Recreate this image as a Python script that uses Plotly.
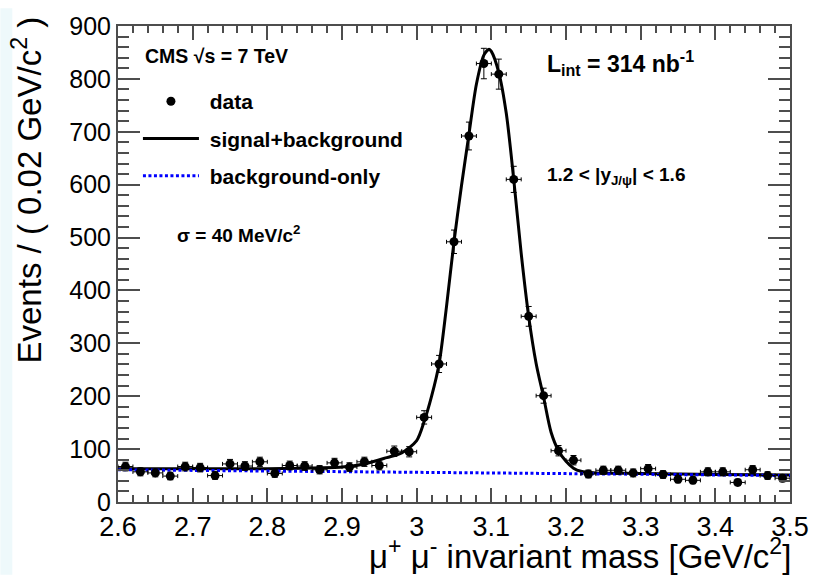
import plotly.graph_objects as go

# ---------------- data ----------------
mass_bins = [2.61, 2.63, 2.65, 2.67, 2.69, 2.71, 2.73, 2.75, 2.77, 2.79,
             2.81, 2.83, 2.85, 2.87, 2.89, 2.91, 2.93, 2.95, 2.97, 2.99,
             3.01, 3.03, 3.05, 3.07, 3.09, 3.11, 3.13, 3.15, 3.17,
             3.19, 3.21, 3.23, 3.25, 3.27, 3.29, 3.31, 3.33, 3.35, 3.37,
             3.39, 3.41, 3.43, 3.45, 3.47, 3.49]
events = [67, 57, 55, 49, 67, 65, 50, 72, 68, 76,
          54, 69, 68, 61, 74, 66, 76, 69, 96, 95,
          160, 261, 492, 692, 829, 809, 610, 351, 201,
          97, 79, 53, 60, 60, 55, 63, 52, 43, 41,
          57, 57, 37, 61, 50, 45]
events_err = [8.2, 7.5, 7.4, 7.0, 8.2, 8.1, 7.1, 8.5, 8.2, 8.7,
              7.3, 8.3, 8.2, 7.8, 8.6, 8.1, 8.7, 8.3, 9.8, 9.7,
              12.6, 16.2, 22.2, 26.3, 28.8, 28.4, 24.7, 18.7, 14.2,
              9.8, 8.9, 7.3, 7.7, 7.7, 7.4, 7.9, 7.2, 6.6, 6.4,
              7.5, 7.5, 6.1, 7.8, 7.1, 6.7]
bin_half_width = 0.01

fit_x = [2.60, 2.70, 2.80, 2.85, 2.90, 2.93, 2.96, 2.98, 3.00, 3.01,
         3.02, 3.03, 3.04, 3.05, 3.06, 3.07, 3.08, 3.09, 3.097, 3.10,
         3.11, 3.12, 3.13, 3.14, 3.15, 3.16, 3.17, 3.18, 3.19, 3.20,
         3.21, 3.22, 3.24, 3.30, 3.40, 3.50]
fit_y = [63, 63, 63, 64, 66, 72, 84, 93, 116, 152,
         200, 261, 370, 492, 598, 695, 790, 845, 856, 852,
         812, 735, 610, 470, 351, 262, 198, 132, 97, 77,
         64, 58, 55, 54, 52, 51]

bkg_x = [2.60, 3.05, 3.50]
bkg_y = [61, 56, 50]

x_range = [2.6, 3.5]
y_range = [0, 900]

# ---------------- geometry helpers (pixel -> paper) ----------------
W, H = 821, 576
L, R, T, B = 118, 792, 18, 502


def px(x):
    return (x - L) / (R - L)


def py(y):
    return (B - y) / (B - T)


FONT = "Liberation Sans, Arial, Helvetica, sans-serif"
AXIS_COL = "#4d4d4d"
NB = "\u00a0"

fig = go.Figure()

fig.add_trace(go.Scatter(
    x=fit_x, y=fit_y, mode="lines", name=NB + "signal+background",
    line=dict(color="black", width=3, shape="spline", smoothing=0.8),
    legendrank=2, legendgroup="b", hoverinfo="skip"))

fig.add_trace(go.Scatter(
    x=bkg_x, y=bkg_y, mode="lines", name=NB + "background-only",
    line=dict(color="#0000ff", width=3, dash="3px,2.5px"),
    legendrank=3, legendgroup="c", hoverinfo="skip"))

fig.add_trace(go.Scatter(
    x=mass_bins, y=events, mode="markers", name=NB + "data",
    marker=dict(color="black", size=9, symbol="circle"),
    error_y=dict(type="data", array=events_err, color="black",
                 thickness=1, width=3),
    error_x=dict(type="constant", value=bin_half_width, color="black",
                 thickness=1, width=2),
    legendrank=1, legendgroup="a"))

# invisible traces that carry the tick-only frame axes (all four sides)
for xa, ya in (("x2", "y2"), ("x3", "y3")):
    fig.add_trace(go.Scatter(
        x=x_range, y=y_range, xaxis=xa, yaxis=ya, mode="markers",
        marker=dict(opacity=0), showlegend=False, hoverinfo="skip"))

x_tick = dict(range=x_range, tickmode="linear", tick0=2.6, dtick=0.1,
              ticks="inside", ticklen=14, tickwidth=1.5, tickcolor=AXIS_COL,
              minor=dict(ticks="inside", dtick=0.02, ticklen=7,
                         tickwidth=1.5, tickcolor=AXIS_COL),
              showticklabels=False, showgrid=False, zeroline=False,
              showline=False)
y_tick = dict(range=y_range, tickmode="linear", tick0=0, dtick=100,
              ticks="inside", ticklen=22, tickwidth=1.5, tickcolor=AXIS_COL,
              minor=dict(ticks="inside", dtick=20, ticklen=11,
                         tickwidth=1.5, tickcolor=AXIS_COL),
              showticklabels=False, showgrid=False, zeroline=False,
              showline=False)

fig.update_layout(
    xaxis=dict(range=x_range, showline=True, linecolor=AXIS_COL, linewidth=2,
               mirror=True, showgrid=False, zeroline=False,
               tickmode="linear", tick0=2.6, dtick=0.1, ticks="",
               tickfont=dict(family=FONT, color="black", size=27)),
    yaxis=dict(range=y_range, showline=True, linecolor=AXIS_COL, linewidth=2,
               mirror=True, showgrid=False, zeroline=False,
               tickmode="linear", tick0=0, dtick=100, ticks="",
               tickfont=dict(family=FONT, color="black", size=25)),
    xaxis2=dict(overlaying="x", side="top", anchor="y2", **x_tick),
    yaxis2=dict(overlaying="y", side="right", anchor="x2", **y_tick),
    xaxis3=dict(overlaying="x", side="bottom", anchor="y3", **x_tick),
    yaxis3=dict(overlaying="y", side="left", anchor="x3", **y_tick),
)

annotations = [
    dict(text="CMS √s = 7 TeV", x=px(143), y=py(49), xanchor="left",
         yanchor="middle", font=dict(size=19.5, family=FONT, weight="bold")),
    dict(text="σ = 40 MeV/c<sup>2</sup>", x=px(175), y=py(229), xanchor="left",
         yanchor="middle", font=dict(size=19, family=FONT, weight="bold")),
    dict(text="L<sub>int</sub> = 314 nb<sup>-1</sup>", x=px(546), y=py(56),
         xanchor="left", yanchor="middle",
         font=dict(size=23, family=FONT, weight="bold")),
    dict(text="1.2 &lt; |y<sub>J/ψ</sub>| &lt; 1.6", x=px(546), y=py(171),
         xanchor="left", yanchor="middle",
         font=dict(size=19, family=FONT, weight="bold")),
    dict(text="Events / ( 0.02 GeV/c<sup>2</sup> )", x=px(27), y=py(185),
         textangle=-90, xanchor="center", yanchor="middle",
         font=dict(size=33, family=FONT)),
    dict(text="μ<sup>+</sup> μ<sup>-</sup> invariant mass [GeV/c<sup>2</sup>]",
         x=px(795), y=py(555), xanchor="right", yanchor="middle",
         font=dict(size=33, family=FONT)),
]
for a in annotations:
    a.update(xref="paper", yref="paper", showarrow=False)

fig.update_layout(
    width=W, height=H, autosize=False,
    margin=dict(l=L, r=W - R, t=T, b=H - B, pad=0),
    paper_bgcolor="white", plot_bgcolor="white",
    font=dict(family=FONT, color="black"),
    annotations=annotations,
    showlegend=True,
    legend=dict(x=px(138), y=py(74), xanchor="left", yanchor="top",
                bgcolor="rgba(0,0,0,0)", borderwidth=0,
                font=dict(size=21, family=FONT, weight="bold"),
                itemwidth=56, tracegroupgap=7, traceorder="grouped"),
    shapes=[dict(type="rect", xref="paper", yref="paper",
                 x0=px(0), x1=px(12), y0=py(576), y1=py(0),
                 fillcolor="#eef9fb", line=dict(width=0), layer="below")],
)

fig.write_html("out.html", config={"displayModeBar": False},
               post_script="document.body.style.margin='0';document.body.style.overflow='hidden';")
